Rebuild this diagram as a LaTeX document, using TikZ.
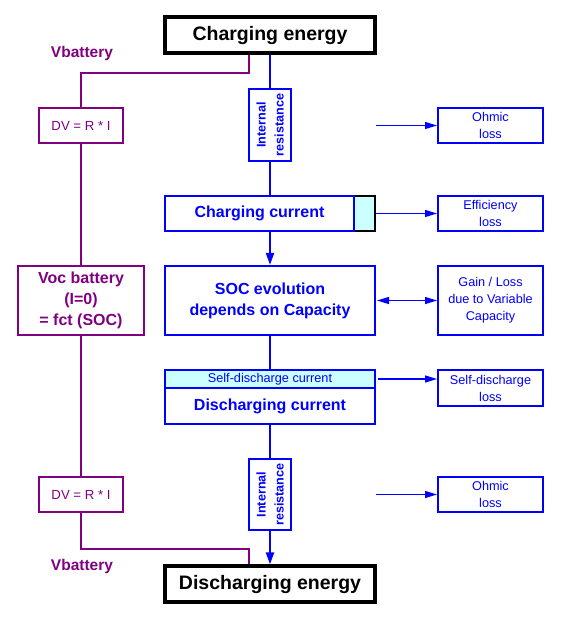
\documentclass[tikz,border=0pt]{standalone}
\usepackage{fontspec}
\setmainfont{Liberation Sans}
\usetikzlibrary{arrows.meta,calc}
\definecolor{bblue}{RGB}{0,0,255}
\definecolor{ppurple}{RGB}{128,0,128}
\definecolor{lcyan}{RGB}{204,255,255}
\begin{document}
\begin{tikzpicture}[x=1pt,y=-1pt,
  box/.style={draw, inner sep=0pt, align=center},
  bl/.style={box, draw=bblue, text=bblue, line width=2.2pt},
  thinbl/.style={box, draw=bblue, text=bblue, line width=2pt},
  pu/.style={box, draw=ppurple, text=ppurple, line width=2pt},
  blk/.style={box, draw=black, text=black, line width=3.3pt},
  fbig/.style={font=\fontsize{19.5}{23}\selectfont\bfseries},
  fmid/.style={font=\fontsize{16}{21}\selectfont\bfseries},
  fsmall/.style={font=\fontsize{12.7}{17}\selectfont},
  fdv/.style={font=\fontsize{13.2}{16}\selectfont},
  fir/.style={font=\fontsize{12.6}{18}\selectfont\bfseries},
  mainline/.style={draw=bblue, line width=2.2pt},
  mainarrow/.style={mainline, -{Triangle[length=12pt,width=8pt]}},
  sidearrow/.style={draw=bblue, line width=1.3pt, -{Triangle[length=12pt,width=7pt]}},
  sidedouble/.style={draw=bblue, line width=1.3pt, {Triangle[length=12pt,width=7pt]}-{Triangle[length=12pt,width=7pt]}},
  purpline/.style={draw=ppurple, line width=2pt},
  vlabel/.style={text=ppurple, font=\fontsize{15.5}{18}\selectfont\bfseries, inner sep=0pt}
]
\useasboundingbox (0,0) rectangle (562,622);

% central column
\node[blk, fbig, minimum width=210pt, minimum height=36pt] (ce) at (270,35) {Charging energy};
\node[bl, fir, rotate=90, minimum width=72pt, minimum height=42pt] (ir1) at (270,125) {Internal\\resistance};
\node[box, draw=black, fill=lcyan, line width=2.2pt, minimum width=21pt, minimum height=35pt] (ccx) at (364.5,213.5) {};
\node[bl, fmid, minimum width=189pt, minimum height=35pt] (cc) at (259.5,213.5) {Charging current};
\node[bl, fmid, minimum width=210pt, minimum height=69pt] (soc) at (270,300.5) {SOC evolution\\depends on Capacity};
\node[bl, fill=lcyan, fsmall, minimum width=210pt, minimum height=18pt] (sd) at (270,379) {Self-discharge current};
\node[bl, fmid, minimum width=210pt, minimum height=36pt] (dc) at (270,406) {Discharging current};
\node[bl, fir, rotate=90, minimum width=71pt, minimum height=42pt] (ir2) at (270,494.5) {Internal\\resistance};
\node[blk, fbig, minimum width=210pt, minimum height=36pt] (de) at (270,584) {Discharging energy};

% left column
\node[vlabel] (vb1) at (82,53) {Vbattery};
\node[pu, fdv, minimum width=84pt, minimum height=35pt] (dv1) at (81,125.5) {DV = R * I};
\node[pu, fmid, minimum width=126pt, minimum height=69pt] (voc) at (81,300.5) {Voc battery\\(I=0)\\= fct (SOC)};
\node[pu, fdv, minimum width=84pt, minimum height=35pt] (dv2) at (81,494.5) {DV = R * I};
\node[vlabel] (vb2) at (82,566) {Vbattery};

% right column
\node[thinbl, fsmall, minimum width=105pt, minimum height=35pt] (ohm1) at (490.5,125.5) {Ohmic\\loss};
\node[thinbl, fsmall, minimum width=105pt, minimum height=35pt] (eff) at (490.5,213.5) {Efficiency\\loss};
\node[thinbl, fsmall, minimum width=105pt, minimum height=69pt] (gain) at (490.5,300.5) {Gain / Loss\\due to Variable\\Capacity};
\node[thinbl, fsmall, minimum width=105pt, minimum height=36pt] (sdl) at (490.5,388) {Self-discharge\\loss};
\node[thinbl, fsmall, minimum width=105pt, minimum height=35pt] (ohm2) at (490.5,494.5) {Ohmic\\loss};

% central connectors
\draw[mainline] (ce.south) -- (ir1.east);
\draw[mainline] (ir1.west) -- (ir1.west |- cc.north);
\draw[mainarrow] (soc.north |- cc.south) -- (soc.north);
\draw[mainline] (soc.south) -- (sd.north);
\draw[mainline] (dc.south) -- (ir2.east);
\draw[mainarrow] (ir2.west) -- (de.north);

% purple connectors
\draw[purpline] ([xshift=-21pt]ce.south) -- ++(0,18) -| (dv1.north);
\draw[purpline] (dv1.south) -- (voc.north);
\draw[purpline] (voc.south) -- (dv2.north);
\draw[purpline] (dv2.south) -- ++(0,36) -| ([xshift=-21pt]de.north);

% side arrows
\coordinate (s1) at ([xshift=-61pt]ohm1.west);
\coordinate (s3) at ([xshift=-60pt]gain.west);
\coordinate (s4) at ([xshift=2pt]sd.east);
\coordinate (s5) at ([xshift=-61pt]ohm2.west);
\draw[sidearrow] (s1) -- (ohm1.west);
\draw[sidearrow] (ccx.east) -- (eff.west);
\draw[sidedouble] (s3) -- (gain.west);
\draw[sidearrow] (s4) -- (s4 -| sdl.west);
\draw[sidearrow] (s5) -- (ohm2.west);
\end{tikzpicture}
\end{document}
